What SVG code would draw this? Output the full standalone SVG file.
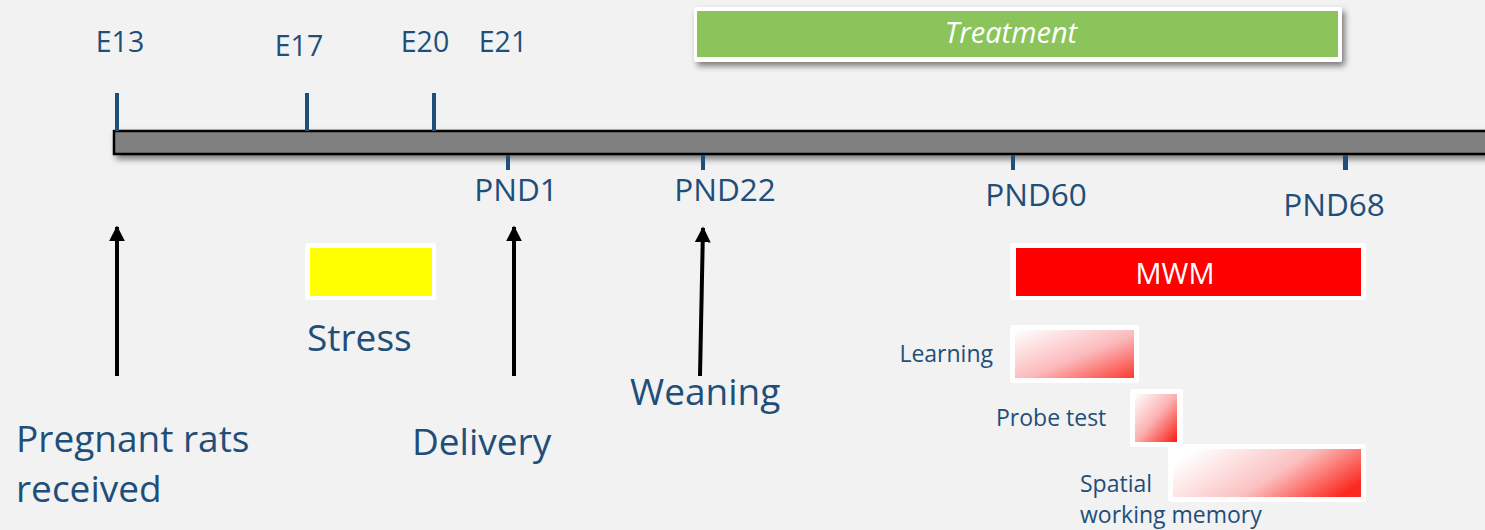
<svg xmlns="http://www.w3.org/2000/svg" width="1485" height="530" viewBox="0 0 1485 530">
  <style>
    .lbl { font-family: "Open Sans", Lato, sans-serif; fill: #1f4e79; }
    .big { font-size: 37px; }
    .small { font-size: 23px; }
    .tick { fill: #1f4e79; }
    .frame { fill: #ffffff; }
    .arrow { stroke: #000; stroke-width: 4; fill: none; marker-end: url(#head); }
  </style>
  <defs>
    <marker id="head" viewBox="0 0 10 10" refX="9" refY="5" markerWidth="4" markerHeight="4" orient="auto">
      <path d="M0,0 L10,5 L0,10 Z" fill="#000"/>
    </marker>
    <linearGradient id="fade" x1="0" y1="0" x2="1" y2="1">
      <stop offset="0" stop-color="#ffffff"/>
      <stop offset="0.55" stop-color="#fbb9bb"/>
      <stop offset="1" stop-color="#fb3a30"/>
    </linearGradient>
    <linearGradient id="fadeSq" x1="0" y1="0" x2="1" y2="1">
      <stop offset="0" stop-color="#ffffff"/>
      <stop offset="0.5" stop-color="#fbb0b0"/>
      <stop offset="1" stop-color="#fa1a10"/>
    </linearGradient>
    <linearGradient id="fadeWide" x1="0" y1="0.3" x2="1" y2="0.7">
      <stop offset="0" stop-color="#ffffff"/>
      <stop offset="0.55" stop-color="#fbc0c0"/>
      <stop offset="1" stop-color="#fb2a20"/>
    </linearGradient>
    <filter id="shadow" x="-5%" y="-50%" width="110%" height="200%">
      <feGaussianBlur in="SourceAlpha" stdDeviation="3"/>
      <feOffset dx="3" dy="4" result="b"/>
      <feComponentTransfer><feFuncA type="linear" slope="0.5"/></feComponentTransfer>
      <feMerge><feMergeNode/><feMergeNode in="SourceGraphic"/></feMerge>
    </filter>
  </defs>

  <rect width="1485" height="530" fill="#f2f2f2"/>

  <!-- timeline bar -->
  <g id="timeline">
    <rect x="114" y="131" width="1380" height="23" fill="#808080" stroke="#000" stroke-width="2.5" filter="url(#shadow)"/>
    <rect class="tick" x="115" y="93" width="4" height="38"/>
    <rect class="tick" x="305" y="93" width="4" height="38"/>
    <rect class="tick" x="432" y="93" width="4" height="38"/>
    <rect class="tick" x="506" y="155" width="4" height="15"/>
    <rect class="tick" x="701" y="155" width="4" height="15"/>
    <rect class="tick" x="1011" y="155" width="4" height="15"/>
    <rect class="tick" x="1343" y="155" width="5" height="15"/>
  </g>

  <!-- day labels -->
  <g id="day-labels" class="lbl" text-anchor="middle">
    <g font-size="28.5">
      <text x="120" y="52">E13</text>
      <text x="299" y="56">E17</text>
      <text x="425" y="52">E20</text>
      <text x="503" y="52">E21</text>
    </g>
    <g font-size="31.5">
      <text x="516" y="201">PND1</text>
      <text x="725" y="201">PND22</text>
      <text x="1036" y="206">PND60</text>
      <text x="1334" y="216">PND68</text>
    </g>
  </g>

  <!-- treatment period -->
  <g id="treatment">
    <rect class="frame" x="694" y="7" width="648" height="55" rx="2" filter="url(#shadow)"/>
    <rect x="697" y="11" width="641" height="46" fill="#8bc45a"/>
    <text x="1011" y="43" text-anchor="middle" font-family="'Open Sans', Lato, sans-serif" font-style="italic" font-size="29" fill="#ffffff">Treatment</text>
  </g>

  <!-- stress period -->
  <g id="stress">
    <rect class="frame" x="305" y="243" width="131" height="57" rx="3"/>
    <rect x="310" y="248" width="122" height="48" fill="#ffff00"/>
    <text class="lbl big" x="307" y="351">Stress</text>
  </g>

  <!-- water maze -->
  <g id="mwm">
    <rect class="frame" x="1010" y="243" width="356" height="57" rx="3"/>
    <rect x="1016" y="248" width="345" height="48" fill="#ff0000"/>
    <text x="1175" y="284" text-anchor="middle" font-family="'Open Sans', Lato, sans-serif" font-size="29" fill="#ffffff">MWM</text>
  </g>

  <g id="learning">
    <rect class="frame" x="1010" y="325" width="129" height="58" rx="3"/>
    <rect x="1015" y="330" width="119" height="48" fill="url(#fade)"/>
    <text class="lbl small" x="993" y="362" text-anchor="end">Learning</text>
  </g>

  <g id="probe-test">
    <rect class="frame" x="1130" y="389" width="53" height="58" rx="3"/>
    <rect x="1135" y="394" width="42" height="48" fill="url(#fadeSq)"/>
    <text class="lbl small" x="996" y="426">Probe test</text>
  </g>

  <g id="spatial-memory">
    <rect class="frame" x="1168" y="444" width="198" height="58" rx="3"/>
    <rect x="1173" y="449" width="188" height="48" fill="url(#fadeWide)"/>
    <text class="lbl small" x="1080" y="492">Spatial</text>
    <text class="lbl small" x="1080" y="523">working memory</text>
  </g>

  <!-- event captions -->
  <g id="pregnant">
    <text class="lbl big" x="16" y="452">Pregnant rats</text>
    <text class="lbl big" x="16" y="502">received</text>
  </g>
  <g id="delivery">
    <text class="lbl big" x="412" y="455">Delivery</text>
  </g>
  <g id="weaning">
    <text class="lbl big" x="630" y="405">Weaning</text>
  </g>

  <!-- connectors -->
  <g id="connectors">
    <line class="arrow" x1="117" y1="376" x2="117" y2="227"/>
    <line class="arrow" x1="514" y1="376" x2="514" y2="227"/>
    <line class="arrow" x1="700" y1="376" x2="703" y2="228"/>
  </g>
</svg>
